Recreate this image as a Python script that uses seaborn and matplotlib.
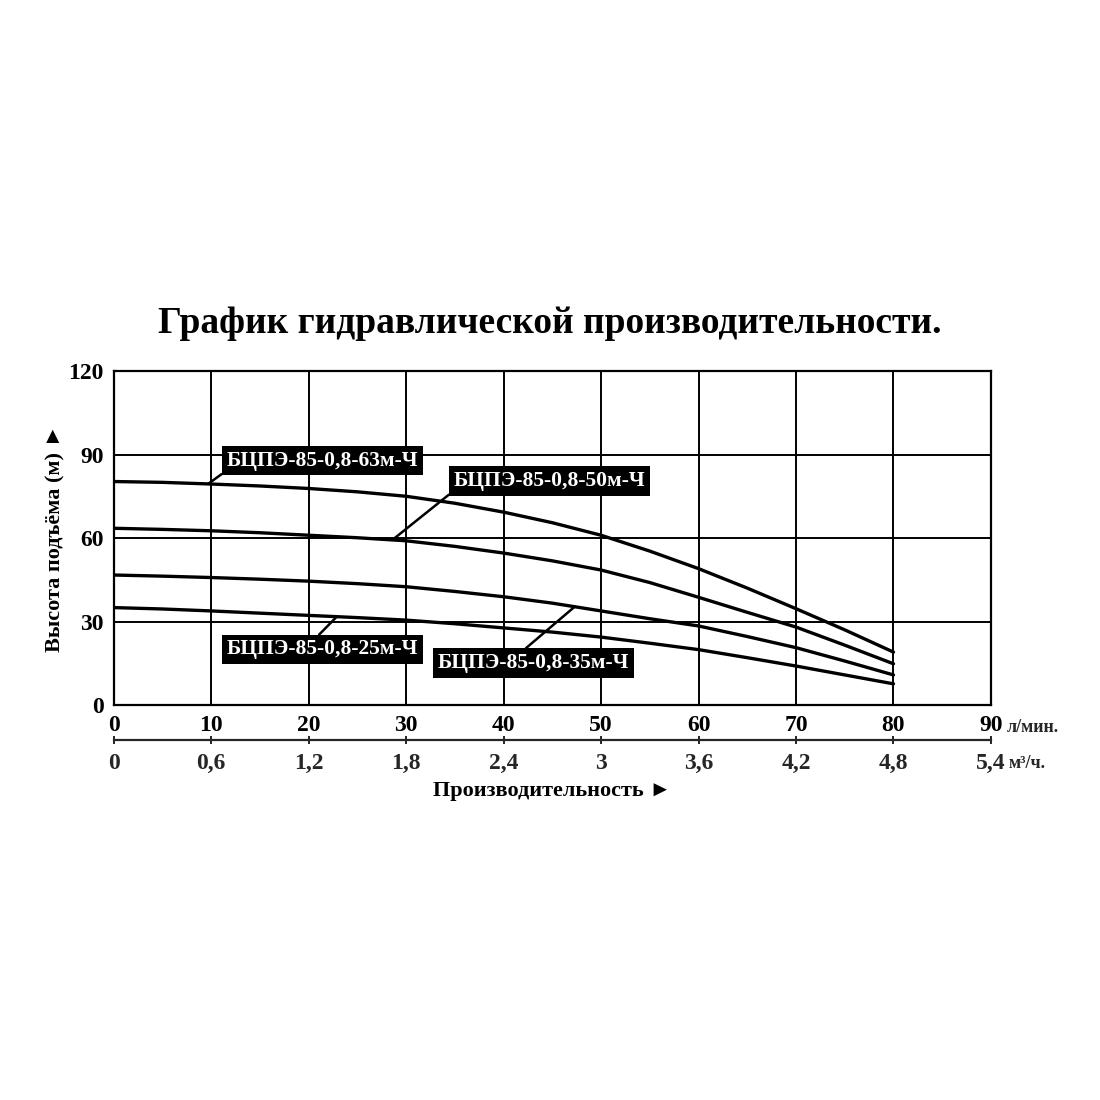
import numpy as np
import pandas as pd
import matplotlib
matplotlib.use('Agg')
import matplotlib.pyplot as plt
import seaborn as sns

# ── Data (flow in л/мин, head in м) ────────────────────────────────────────
flow = [0, 5, 10, 15, 20, 25, 30, 35, 40, 45, 50, 55, 60, 65, 70, 75, 80]
head_63 = [80.3, 80.0, 79.4, 78.7, 77.8, 76.6, 75.0, 72.5, 69.3, 65.5,
           61.0, 55.3, 49.0, 42.0, 34.6, 27.0, 19.0]
head_50 = [63.5, 63.1, 62.6, 61.9, 61.0, 60.1, 59.0, 57.0, 54.6, 51.8,
           48.5, 44.0, 38.7, 33.3, 28.0, 21.5, 14.8]
head_35 = [46.7, 46.3, 45.8, 45.2, 44.5, 43.6, 42.5, 40.8, 38.9, 36.6,
           33.8, 31.0, 28.4, 24.6, 20.6, 15.8, 10.8]
head_25 = [35.0, 34.5, 33.8, 33.0, 32.2, 31.4, 30.5, 29.2, 27.7, 26.2,
           24.4, 22.2, 19.9, 17.0, 14.0, 10.8, 7.6]

models = ['БЦПЭ-85-0,8-63м-Ч', 'БЦПЭ-85-0,8-50м-Ч',
          'БЦПЭ-85-0,8-35м-Ч', 'БЦПЭ-85-0,8-25м-Ч']
heads = [head_63, head_50, head_35, head_25]

x_ticks = [0, 10, 20, 30, 40, 50, 60, 70, 80, 90]
y_ticks = [0, 30, 60, 90, 120]
m3h_ticks = [0, 0.6, 1.2, 1.8, 2.4, 3, 3.6, 4.2, 4.8, 5.4]
m3h_labels = ['0', '0,6', '1,2', '1,8', '2,4', '3', '3,6', '4,2', '4,8', '5,4']

# label box centre (data), leader start on box (relpos), flow where leader meets curve
label_layout = {
    'БЦПЭ-85-0,8-63м-Ч': (21.4, 87.8, (0.0, 0.0), 9.7),
    'БЦПЭ-85-0,8-50м-Ч': (44.7, 80.5, (0.0, 0.0), 28.6),
    'БЦПЭ-85-0,8-35м-Ч': (43.1, 15.1, (0.43, 1.0), 47.3),
    'БЦПЭ-85-0,8-25м-Ч': (21.4, 20.0, (0.46, 1.0), 22.9),
}

df = pd.concat([pd.DataFrame({'flow': flow, 'head': h, 'model': m})
                for m, h in zip(models, heads)], ignore_index=True)

# ── Style ──────────────────────────────────────────────────────────────────
sns.set_style('white')
plt.rcParams['font.family'] = ['Liberation Serif', 'DejaVu Sans']
plt.rcParams['font.weight'] = 'bold'
plt.rcParams['axes.labelweight'] = 'bold'

fig = plt.figure(figsize=(11, 11), dpi=100)
ax = fig.add_axes([0.1032, 0.3591, 0.7977, 0.3036])

sns.lineplot(data=df, x='flow', y='head', hue='model',
             palette={m: 'black' for m in models}, linewidth=2.4,
             legend=False, ax=ax)

ax.set_xlim(0, 90)
ax.set_ylim(0, 120)
ax.set_xticks(x_ticks)
ax.set_yticks(y_ticks)
ax.grid(True, color='black', linewidth=1.4)
for s in ax.spines.values():
    s.set_color('black'); s.set_linewidth(1.6)
ax.tick_params(length=0, labelsize=17, pad=7, colors='black')
ax.set_xlabel('')
ax.set_ylabel('Высота подъёма (м) ►', fontsize=16, fontweight='bold',
              labelpad=2, color='black')

# second flow scale in м³/ч
sec = ax.secondary_xaxis(-0.105, functions=(lambda q: q * 0.06, lambda q: q / 0.06))
sec.set_xticks(m3h_ticks)
sec.set_xticklabels(m3h_labels)
sec.tick_params(direction='inout', length=6, width=1.4, labelsize=17, pad=6)
sec.spines['bottom'].set_linewidth(1.6)
sec.set_xlabel('Производительность ►', fontsize=16, fontweight='bold',
               labelpad=5, color='black')

fig.text(1007 / 1100, 1 - 727 / 1100, 'л/мин.', fontsize=13, va='center', ha='left')
fig.text(1009 / 1100, 1 - 763 / 1100, 'м³/ч.', fontsize=13, va='center', ha='left')

# model labels with leader lines
for m, h in zip(models, heads):
    tx, ty, rp, fx = label_layout[m]
    fy = np.interp(fx, flow, h)
    ax.annotate(m, xy=(fx, fy), xytext=(tx, ty), ha='center', va='center',
                fontsize=15.5, color='white',
                bbox=dict(boxstyle='square,pad=0.22', fc='black', ec='none'),
                arrowprops=dict(arrowstyle='-', color='black', lw=1.8,
                                relpos=rp, shrinkA=0, shrinkB=0))

fig.text(0.5, 1 - 333 / 1100, 'График гидравлической производительности.',
         fontsize=27, ha='center', va='baseline', color='black')

plt.savefig('out.png', dpi=100, facecolor='white')
